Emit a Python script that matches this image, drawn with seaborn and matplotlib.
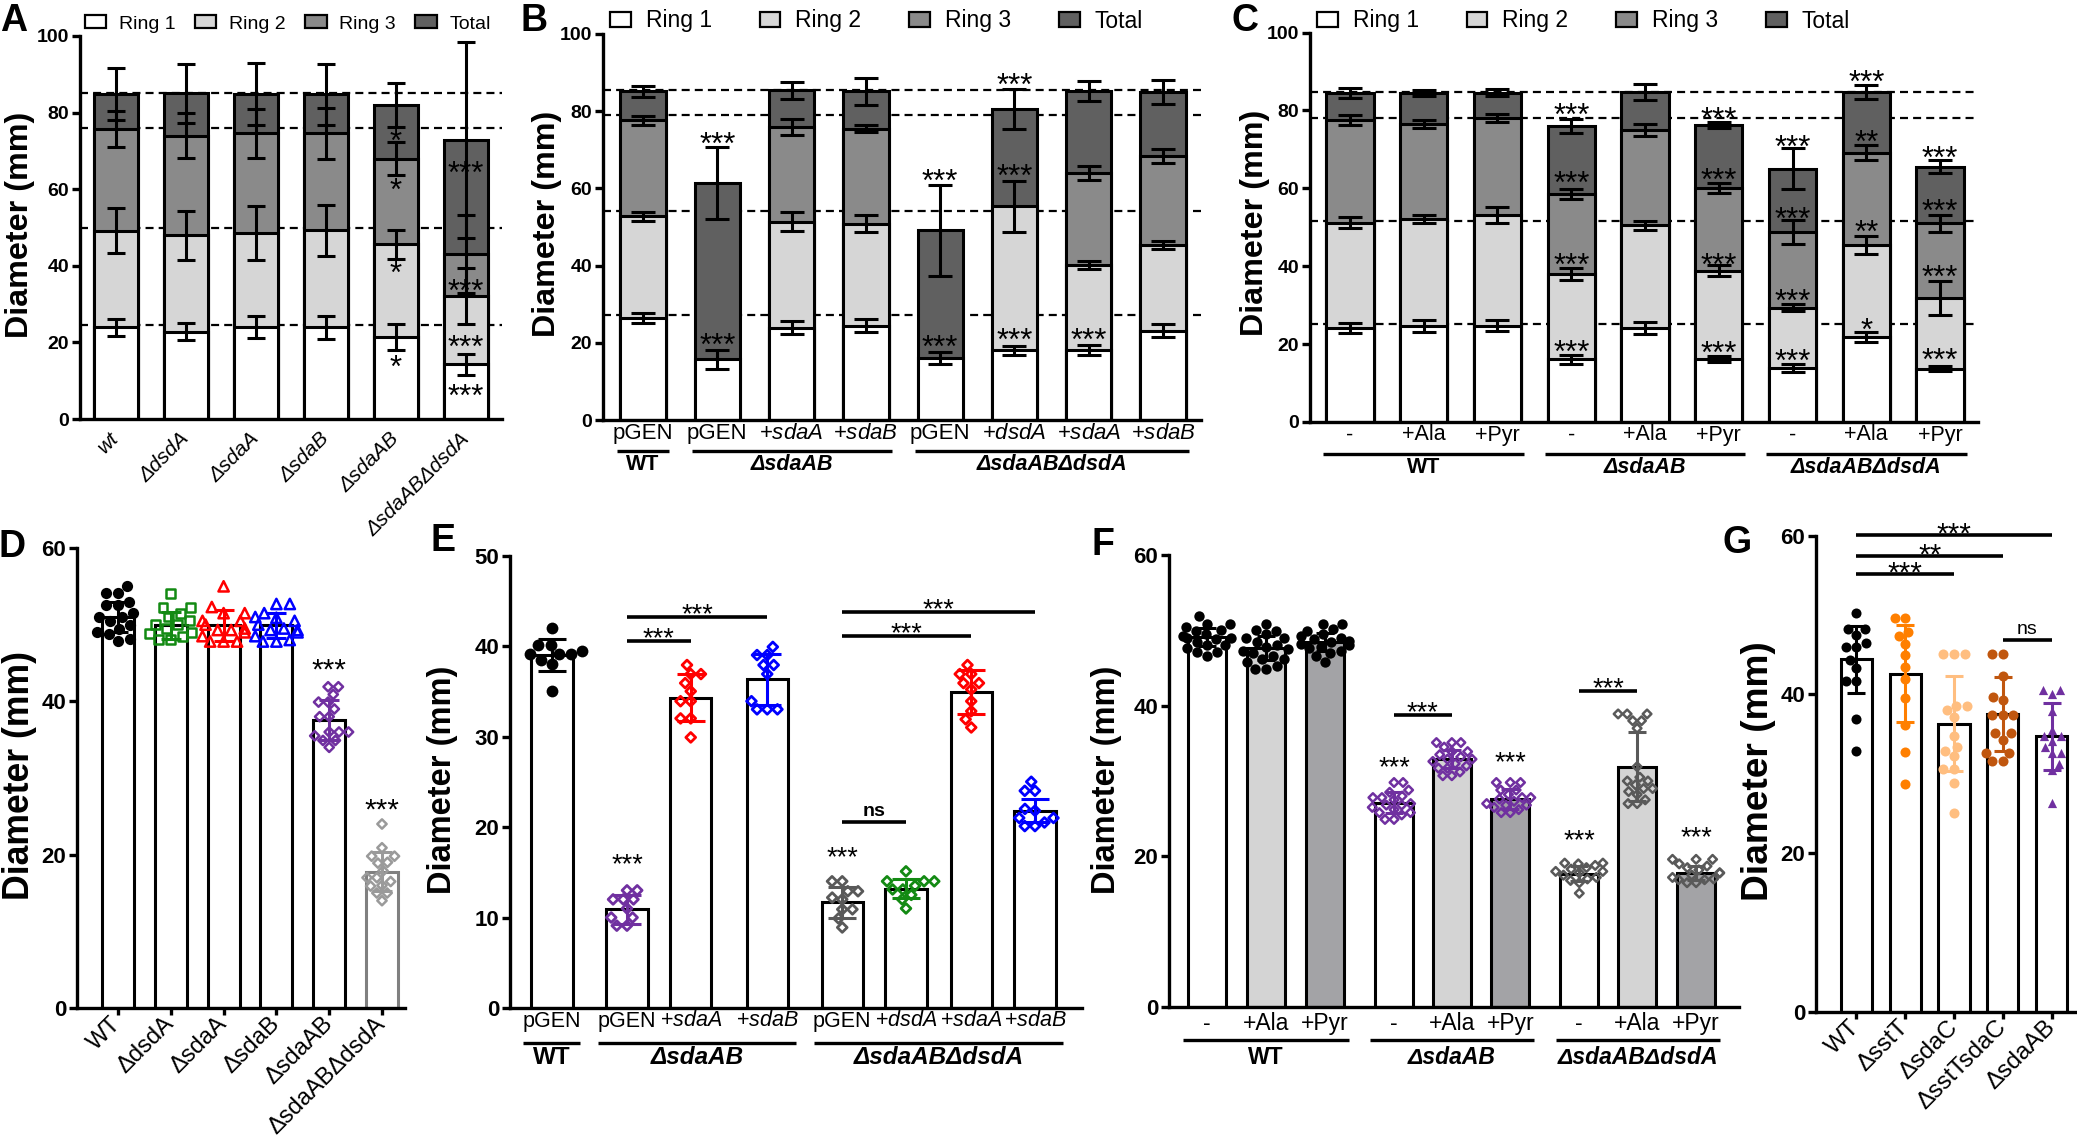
"""
Zone-of-growth diameters (panels A-G): stacked ring diameters and scatter-bar plots.
"""
import numpy as np
import pandas as pd
import matplotlib
matplotlib.use("Agg")
import matplotlib.pyplot as plt
import matplotlib.transforms as mtransforms
from matplotlib.patches import Patch
import seaborn as sns

W, H = 2077, 1146
NAN = np.nan

# ---------------- A: ring diameters, single mutants ----------------
A_LABELS = ["wt", "ΔdsdA", "ΔsdaA", "ΔsdaB", "ΔsdaAB", "ΔsdaABΔdsdA"]
A_RING1 = [23.9, 22.8, 24.1, 23.9, 21.5, 14.3]
A_RING1_SD = [2.1, 2.3, 2.9, 3.1, 3.4, 2.8]
A_RING2 = [49.2, 48.0, 48.5, 49.3, 45.6, 32.1]
A_RING2_SD = [5.8, 6.4, 7.1, 6.7, 3.7, 7.4]
A_RING3 = [75.6, 74.0, 74.6, 74.6, 68.0, 43.0]
A_RING3_SD = [4.7, 5.8, 6.4, 6.7, 4.2, 10.2]
A_TOTAL = [84.9, 85.0, 84.9, 84.8, 82.0, 72.8]
A_TOTAL_SD = [6.8, 7.7, 8.1, 8.0, 5.8, 25.6]
A_REF = [85.0, 76.0, 49.8, 24.5]
A_STARS = [(4, 74.6, "*"), (4, 62.0, "*"), (4, 40.2, "*"), (4, 15.8, "*"),
           (5, 66.3, "***"), (5, 35.6, "***"), (5, 20.8, "***"), (5, 8.0, "***")]

# ---------------- B: complementation ----------------
B_LABELS = ["pGEN", "pGEN", r"+$\mathit{sdaA}$", r"+$\mathit{sdaB}$",
            "pGEN", r"+$\mathit{dsdA}$", r"+$\mathit{sdaA}$", r"+$\mathit{sdaB}$"]
B_GROUPS = [("WT", 0, 0, False), ("ΔsdaAB", 1, 3, True), ("ΔsdaABΔdsdA", 4, 7, True)]
B_RING1 = [26.5, 15.7, 23.9, 24.4, 16.0, 18.1, 18.1, 23.1]
B_RING1_SD = [1.3, 2.5, 1.7, 1.7, 1.6, 1.2, 1.3, 1.7]
B_RING2 = [52.8, NAN, 51.4, 50.9, NAN, 55.4, 40.1, 45.4]
B_RING2_SD = [1.2, NAN, 2.4, 2.1, NAN, 6.6, 1.0, 1.0]
B_RING3 = [77.6, NAN, 75.9, 75.5, NAN, NAN, 64.0, 68.3]
B_RING3_SD = [1.2, NAN, 2.0, 1.0, NAN, NAN, 1.7, 1.8]
B_TOTAL = [85.2, 61.3, 85.4, 85.2, 49.2, 80.6, 85.2, 85.0]
B_TOTAL_SD = [1.4, 9.3, 2.2, 3.5, 11.8, 5.1, 2.5, 3.2]
B_REF = [85.4, 78.9, 54.1, 27.3]
B_STARS = [(1, 73.6, "***"), (1, 21.5, "***"), (4, 64.0, "***"), (4, 21.0, "***"),
           (5, 89.0, "***"), (5, 65.2, "***"), (5, 22.9, "***"), (6, 22.7, "***")]

# ---------------- C: alanine / pyruvate supplementation ----------------
C_LABELS = ["-", "+Ala", "+Pyr"] * 3
C_GROUPS = [("WT", 0, 2, False), ("ΔsdaAB", 3, 5, True), ("ΔsdaABΔdsdA", 6, 8, True)]
C_RING1 = [24.2, 24.7, 24.7, 16.1, 24.2, 16.1, 13.9, 21.8, 13.7]
C_RING1_SD = [1.3, 1.6, 1.4, 1.1, 1.5, 0.8, 1.0, 1.3, 0.7]
C_RING2 = [51.2, 52.1, 53.2, 38.0, 50.5, 38.9, 29.4, 45.4, 31.8]
C_RING2_SD = [1.5, 1.0, 2.0, 1.5, 1.1, 1.4, 1.0, 2.3, 4.3]
C_RING3 = [77.5, 76.5, 78.1, 58.6, 74.9, 60.1, 48.9, 69.2, 51.0]
C_RING3_SD = [1.3, 1.0, 1.0, 1.3, 1.5, 1.3, 3.1, 1.9, 2.1]
C_TOTAL = [84.4, 84.4, 84.6, 76.0, 84.7, 76.3, 65.1, 84.7, 65.6]
C_TOTAL_SD = [1.3, 0.8, 0.8, 1.7, 2.0, 0.8, 5.2, 1.8, 1.7]
C_REF = [84.8, 78.0, 51.7, 25.1]
C_STARS = [(3, 80.8, "***"), (3, 63.5, "***"), (3, 42.3, "***"), (3, 20.1, "***"),
           (5, 80.0, "***"), (5, 64.3, "***"), (5, 42.3, "***"), (5, 19.7, "***"),
           (6, 72.7, "***"), (6, 54.3, "***"), (6, 33.2, "***"), (6, 17.8, "***"),
           (7, 89.4, "***"), (7, 74.1, "**"), (7, 50.8, "**"), (7, 25.8, "*"),
           (8, 70.0, "***"), (8, 56.2, "***"), (8, 39.2, "***"), (8, 18.0, "***")]

# ---------------- D: single plates ----------------
D_LABELS = ["WT", "ΔdsdA", "ΔsdaA", "ΔsdaB", "ΔsdaAB", "ΔsdaABΔdsdA"]
D_MEAN = [51.0, 49.9, 49.9, 49.9, 37.6, 17.8]
D_SD = [2.0, 1.8, 2.0, 1.6, 2.6, 2.5]
D_POINTS = [
    [55.0, 54.1, 54.1, 53.0, 52.6, 52.6, 51.5, 51.0, 51.0, 50.5, 50.0, 49.5, 49.0, 48.8, 48.1, 47.9],
    [54.1, 52.3, 52.3, 51.5, 51.0, 50.5, 50.0, 50.0, 49.5, 49.0, 48.8, 48.5, 48.1, 48.1],
    [55.0, 52.3, 51.5, 51.5, 50.5, 50.5, 50.0, 49.5, 49.3, 49.3, 49.0, 48.5, 47.8, 47.8, 47.8],
    [52.7, 52.7, 51.5, 51.0, 50.9, 50.5, 50.0, 49.5, 49.3, 49.3, 49.0, 48.5, 48.0, 47.8, 47.8],
    [41.9, 41.9, 40.9, 39.9, 39.9, 39.0, 38.0, 38.0, 36.0, 36.0, 36.0, 35.5, 34.9, 34.9, 34.0],
    [24.0, 20.9, 19.8, 19.8, 19.0, 18.9, 17.9, 17.0, 17.0, 16.5, 16.0, 15.9, 15.0, 15.0, 14.0],
]
D_STARS = [(4, 45.3, "***"), (5, 27.0, "***")]

# ---------------- E: complementation, single plates ----------------
E_LABELS = ["pGEN", "pGEN", r"+$\mathit{sdaA}$", r"+$\mathit{sdaB}$",
            "pGEN", r"+$\mathit{dsdA}$", r"+$\mathit{sdaA}$", r"+$\mathit{sdaB}$"]
E_GROUPS = [("WT", 0, 0, False), ("ΔsdaAB", 1, 3, True), ("ΔsdaABΔdsdA", 4, 7, True)]
E_MEAN = [39.0, 10.9, 34.3, 36.3, 11.7, 13.2, 34.9, 21.8]
E_SD = [1.8, 1.6, 2.6, 2.8, 1.7, 1.0, 2.4, 1.3]
E_POINTS = [
    [42.0, 40.1, 40.1, 39.5, 39.1, 39.1, 39.1, 38.5, 38.0, 35.0],
    [13.0, 13.0, 12.0, 12.0, 12.0, 11.0, 10.0, 10.0, 9.1, 9.1],
    [37.9, 36.9, 36.9, 35.9, 35.0, 33.9, 33.9, 32.0, 32.0, 29.9],
    [39.9, 39.0, 39.0, 37.9, 37.9, 36.9, 33.9, 33.0, 33.0, 33.0],
    [14.0, 14.0, 12.9, 12.9, 12.2, 12.0, 10.9, 10.9, 9.9, 8.9],
    [15.1, 14.0, 14.0, 14.0, 13.5, 13.1, 13.1, 12.5, 12.0, 11.0],
    [37.9, 36.9, 36.9, 35.9, 35.9, 35.2, 33.9, 32.8, 31.9, 31.0],
    [25.0, 24.0, 24.0, 22.0, 21.8, 21.0, 21.0, 20.5, 20.1, 20.1],
]
E_BRACKETS = [(1, 2, 40.6, "***"), (1, 3, 43.2, "***"), (4, 6, 41.1, "***"),
              (4, 7, 43.8, "***"), (4, 5, 20.5, "ns")]
E_STARS = [(1, 16.7, "***"), (4, 17.5, "***")]

# ---------------- F: supplementation, single plates ----------------
F_LABELS = ["-", "+Ala", "+Pyr"] * 3
F_GROUPS = [("WT", 0, 2, False), ("ΔsdaAB", 3, 5, True), ("ΔsdaABΔdsdA", 6, 8, True)]
F_MEAN = [49.1, 47.6, 48.5, 27.1, 32.9, 27.6, 17.7, 31.9, 17.8]
F_SD = [1.2, 1.6, 1.2, 1.4, 1.2, 1.3, 1.0, 4.6, 0.9]
F_POINTS = [
    [51.9, 50.9, 50.9, 50.4, 50.0, 49.9, 49.5, 49.2, 49.0, 49.0, 48.8, 48.5, 48.0, 48.0, 47.6, 47.1, 47.1, 46.6],
    [50.9, 50.0, 49.9, 49.5, 49.0, 49.0, 48.5, 48.0, 47.8, 47.5, 47.2, 47.0, 46.6, 46.2, 46.2, 45.8, 45.2, 44.9, 44.9],
    [50.9, 50.9, 50.2, 49.9, 49.5, 49.2, 49.0, 48.8, 48.6, 48.5, 48.2, 48.0, 47.8, 47.6, 47.3, 47.0, 46.6, 45.8],
    [29.8, 29.8, 28.8, 28.5, 28.0, 27.8, 27.8, 27.5, 27.0, 26.8, 26.8, 26.5, 26.2, 25.8, 25.8, 25.5, 24.9, 24.9],
    [35.1, 35.1, 35.1, 34.5, 33.9, 33.9, 33.5, 33.2, 32.9, 32.9, 32.6, 32.3, 32.0, 31.7, 31.7, 31.2, 30.7, 30.7],
    [29.8, 29.8, 29.8, 28.8, 28.8, 28.2, 27.8, 27.8, 27.6, 27.3, 27.0, 26.8, 26.8, 26.5, 26.2, 25.8, 25.8],
    [19.1, 19.1, 19.0, 18.8, 18.5, 18.3, 18.0, 18.0, 17.8, 17.5, 17.2, 17.0, 16.8, 16.5, 15.1],
    [38.9, 38.9, 38.9, 38.0, 38.0, 37.0, 31.9, 30.5, 30.0, 30.0, 29.5, 29.0, 29.0, 28.6, 28.2, 27.5, 27.0, 27.0],
    [19.6, 19.6, 19.6, 19.0, 18.7, 18.5, 18.2, 17.8, 17.8, 17.5, 17.2, 17.0, 16.9, 16.9, 16.5, 16.5],
]
F_BRACKETS = [(3, 4, 38.8, "***"), (6, 7, 42.0, "***")]
F_STARS = [(3, 32.9, "***"), (5, 33.5, "***"), (6, 23.2, "***"), (8, 23.6, "***")]

# ---------------- G: transporter mutants ----------------
G_LABELS = ["WT", "ΔsstT", "ΔsdaC", "ΔsstTsdaC", "ΔsdaAB"]
G_MEAN = [44.4, 42.6, 36.3, 37.5, 34.7]
G_SD = [4.2, 6.1, 6.0, 4.7, 4.2]
G_POINTS = [
    [50.3, 48.2, 48.2, 47.5, 46.5, 45.9, 45.9, 44.3, 43.3, 41.7, 41.7, 36.9, 32.9],
    [49.6, 49.6, 47.9, 47.4, 46.4, 45.0, 43.5, 41.9, 39.5, 36.1, 32.7, 28.7],
    [45.1, 45.1, 45.1, 38.5, 38.5, 38.0, 37.1, 34.8, 33.4, 32.8, 32.2, 30.6, 30.6, 28.8, 25.1],
    [45.1, 45.1, 42.3, 39.7, 39.3, 37.4, 37.4, 37.4, 35.1, 35.1, 34.3, 32.6, 32.6, 31.6, 31.6],
    [40.6, 40.6, 40.0, 37.9, 35.5, 34.7, 34.7, 34.1, 33.4, 32.6, 32.6, 31.2, 30.5, 26.3],
]
G_BRACKETS = [(0, 4, 60.1, "***"), (0, 3, 57.4, "**"), (0, 2, 55.1, "***"), (3, 4, 46.8, "ns")]

# ---------------- styles ----------------
RING_NAMES = ["Ring 1", "Ring 2", "Ring 3", "Total"]
RING_COLORS = ["white", "#d6d6d6", "#8a8a8a", "#606060"]
PURPLE, DGRAY = "#7030a0", "#595959"
MSIZE = {"o": 8.5, "s": 6.8, "^": 7.8, "D": 5.0}

sns.set_style("ticks")
plt.rcParams["font.family"] = ["Liberation Sans", "DejaVu Sans"]
plt.rcParams.update({
    "mathtext.fontset": "custom",
    "mathtext.rm": "Liberation Sans",
    "mathtext.it": "Liberation Sans:italic",
    "mathtext.bf": "Liberation Sans:bold",
    "axes.linewidth": 2.4,
    "axes.edgecolor": "black",
    "xtick.color": "black",
    "ytick.color": "black",
    "text.color": "black",
    "xtick.major.width": 2.4,
    "ytick.major.width": 2.4,
})


def add_axes(fig, left, right, top, bottom):
    return fig.add_axes([left / W, 1 - bottom / H, (right - left) / W, (bottom - top) / H])


def star(ax, x, y, text, size):
    # asterisks sit high in the em box, pull them down so the glyphs centre on y
    ax.annotate(text, (x, y), xytext=(0, -0.32 * size), textcoords="offset points",
                ha="center", va="center", fontsize=size, annotation_clip=False, zorder=6)


def bracket(ax, x0, x1, y, text, size, ns_bold=False):
    ax.plot([x0, x1], [y, y], color="black", lw=2.6, clip_on=False, solid_capstyle="butt", zorder=5)
    if "*" in text:
        ax.annotate(text, ((x0 + x1) / 2, y), xytext=(0, 7.2 - 0.32 * size),
                    textcoords="offset points", ha="center", va="center", fontsize=size,
                    annotation_clip=False)
    else:
        ax.annotate(text, ((x0 + x1) / 2, y), xytext=(0, 7.6), textcoords="offset points",
                    ha="center", va="center", fontsize=14,
                    fontweight="bold" if ns_bold else "normal", annotation_clip=False)


def finish_axes(ax, xlim, ymax, ystep, tick_size):
    sns.despine(ax=ax)
    ax.set_xlim(*xlim)
    ax.set_ylim(0, ymax)
    ticks = list(range(0, ymax + 1, ystep))
    ax.set_yticks(ticks, [str(t) for t in ticks], fontsize=tick_size, fontweight="bold")
    ax.tick_params(axis="y", length=5.8, width=2.4, pad=2)
    ax.set_xlabel("")
    ax.set_ylabel("")


def below_labels(ax, pos, labels, groups, y_lab, y_line, y_grp, lab_size, grp_size, half):
    tr = mtransforms.blended_transform_factory(ax.transData, ax.figure.transFigure)
    for p, lab in zip(pos, labels):
        ax.text(p, 1 - y_lab / H, lab, transform=tr, ha="center", va="center", fontsize=lab_size)
    for name, i0, i1, italic in groups:
        ax.plot([pos[i0] - half, pos[i1] + half], [1 - y_line / H] * 2, transform=tr,
                color="black", lw=2.4, clip_on=False, solid_capstyle="butt")
        ax.text((pos[i0] + pos[i1]) / 2, 1 - y_grp / H, name, transform=tr, ha="center",
                va="center", fontsize=grp_size, fontweight="bold",
                fontstyle="italic" if italic else "normal")
    ax.set_xticks([])


def stacked_panel(ax, rings, sds, ref, stars, width, capsize, star_size):
    pos = np.arange(len(rings[-1]))
    for y in ref:
        ax.axhline(y, color="black", lw=1.6, ls=(0, (3.6, 2.3)), zorder=0.5)
    # Total first, Ring 1 last so the smaller diameters sit in front
    for vals, color in zip(rings[::-1], RING_COLORS[::-1]):
        df = pd.DataFrame({"pos": pos, "d": vals}).dropna()
        sns.barplot(data=df, x="pos", y="d", native_scale=True, orient="x", width=width,
                    color=color, saturation=1, edgecolor="black", linewidth=2.2,
                    errorbar=None, ax=ax, zorder=2)
    for vals, err in zip(rings, sds):
        v, e = np.asarray(vals, float), np.asarray(err, float)
        ok = ~np.isnan(v)
        ax.errorbar(pos[ok], v[ok], yerr=e[ok], fmt="none", ecolor="black", elinewidth=2.2,
                    capsize=capsize, capthick=2.2, zorder=4)
    for i, y, s in stars:
        star(ax, i, y, s, star_size)


def legend_rings(ax, fig, x_px, y_px, size, hlen, colsp):
    handles = [Patch(facecolor=c, edgecolor="black", linewidth=1.6) for c in RING_COLORS]
    ax.legend(handles, RING_NAMES, ncol=4, loc="center left",
              bbox_to_anchor=(x_px / W, 1 - y_px / H), bbox_transform=fig.transFigure,
              frameon=False, fontsize=size, handlelength=hlen, handleheight=0.65,
              handletextpad=0.65, columnspacing=colsp, borderpad=0, borderaxespad=0)


def dot_panel(ax, pos, means, sds, points, colors, markers, filled, faces, edges,
              width, msc, mlw, capsize):
    for i, p in enumerate(pos):
        sns.barplot(x=[p], y=[means[i]], native_scale=True, orient="x", width=width,
                    color=faces[i], saturation=1, edgecolor=edges[i], linewidth=2.2,
                    errorbar=None, ax=ax, zorder=1)
        pts = points[i]
        sns.swarmplot(x=[p] * len(pts), y=pts, native_scale=True, orient="x",
                      marker=markers[i], size=MSIZE[markers[i]] * msc, color=colors[i],
                      facecolor=colors[i] if filled[i] else "none", edgecolor=colors[i],
                      linewidth=0 if filled[i] else mlw, warn_thresh=1, ax=ax, zorder=3)
        ax.errorbar(p, means[i], yerr=sds[i], fmt="none", ecolor=colors[i], elinewidth=2.2,
                    capsize=capsize, capthick=2.2, zorder=4)


fig = plt.figure(figsize=(W / 100, H / 100), dpi=100)

# ---- A ----
axA = add_axes(fig, 80, 502, 36, 419)
stacked_panel(axA, [A_RING1, A_RING2, A_RING3, A_TOTAL],
              [A_RING1_SD, A_RING2_SD, A_RING3_SD, A_TOTAL_SD], A_REF, A_STARS, 0.63, 6.5, 22.5)
finish_axes(axA, (-0.514, 5.514), 100, 20, 14)
axA.set_xticks(range(6), A_LABELS, rotation=45, ha="right", va="center",
               rotation_mode="anchor", fontsize=15, fontstyle="italic")
axA.tick_params(axis="x", length=0, pad=12)
legend_rings(axA, fig, 85, 24, 14, 1.1, 1.0)

# ---- B ----
axB = add_axes(fig, 603, 1201, 34, 420)
stacked_panel(axB, [B_RING1, B_RING2, B_RING3, B_TOTAL],
              [B_RING1_SD, B_RING2_SD, B_RING3_SD, B_TOTAL_SD], B_REF, B_STARS, 0.61, 8.5, 22.5)
finish_axes(axB, (-0.538, 7.51), 100, 20, 14)
below_labels(axB, np.arange(8), B_LABELS, B_GROUPS, 433, 451, 465, 16, 15.5, 0.345)
legend_rings(axB, fig, 610, 21, 16.5, 0.9, 2.1)

# ---- C ----
axC = add_axes(fig, 1310, 1978, 32.6, 422)
stacked_panel(axC, [C_RING1, C_RING2, C_RING3, C_TOTAL],
              [C_RING1_SD, C_RING2_SD, C_RING3_SD, C_TOTAL_SD], C_REF, C_STARS, 0.64, 8.5, 22.5)
finish_axes(axC, (-0.542, 8.515), 100, 20, 14)
below_labels(axC, np.arange(9), C_LABELS, C_GROUPS, 435, 453.7, 467.4, 15.5, 15.5, 0.36)
legend_rings(axC, fig, 1317, 21, 16.5, 0.9, 2.1)

# ---- D ----
axD = add_axes(fig, 77, 405, 548, 1008)
dot_panel(axD, list(range(6)), D_MEAN, D_SD, D_POINTS,
          ["black", "#138a13", "#ff0000", "#0000ff", PURPLE, "#9a9a9a"],
          ["o", "s", "^", "^", "D", "D"], [True, False, False, False, False, False],
          ["white"] * 6, ["black"] * 5 + ["#808080"], 0.61, 0.95, 1.8, 7.5)
for i, y, s in D_STARS:
    star(axD, i, y, s, 21.5)
finish_axes(axD, (-0.777, 5.436), 60, 20, 16)
axD.set_xticks(range(6), D_LABELS, rotation=45, ha="right", va="center",
               rotation_mode="anchor", fontsize=17)
axD.tick_params(axis="x", length=5, width=2.4, pad=4)

# ---- E ----
E_POS = [0, 1, 1.85, 2.87, 3.87, 4.72, 5.59, 6.44]
axE = add_axes(fig, 510, 1082, 555.5, 1008)
dot_panel(axE, E_POS, E_MEAN, E_SD, E_POINTS,
          ["black", PURPLE, "#ff0000", "#0000ff", DGRAY, "#138a13", "#ff0000", "#0000ff"],
          ["o"] + ["D"] * 7, [True] + [False] * 7, ["white"] * 8, ["black"] * 8,
          0.55, 1.0, 2.0, 10)
for a, b, y, t in E_BRACKETS:
    bracket(axE, E_POS[a], E_POS[b], y, t, 19.5, ns_bold=True)
for i, y, s in E_STARS:
    star(axE, E_POS[i], y, s, 19.5)
finish_axes(axE, (-0.56, 7.067), 50, 10, 16)
below_labels(axE, E_POS, E_LABELS, E_GROUPS, 1021, 1042.7, 1058, 15.5, 17.5, 0.38)

# ---- F ----
F_POS = [0, 1, 2, 3.17, 4.15, 5.14, 6.31, 7.29, 8.29]
axF = add_axes(fig, 1169, 1739, 555, 1007)
dot_panel(axF, F_POS, F_MEAN, F_SD, F_POINTS,
          ["black"] * 3 + [PURPLE] * 3 + [DGRAY] * 3,
          ["o"] * 3 + ["D"] * 6, [True] * 3 + [False] * 6,
          ["white", "#d4d4d4", "#a3a3a6"] * 3, ["black"] * 9, 0.64, 0.88, 1.8, 6.8)
for a, b, y, t in F_BRACKETS:
    bracket(axF, F_POS[a], F_POS[b], y, t, 19.5)
for i, y, s in F_STARS:
    star(axF, F_POS[i], y, s, 19.5)
finish_axes(axF, (-0.644, 9.017), 60, 20, 16)
below_labels(axF, F_POS, F_LABELS, F_GROUPS, 1023.7, 1040, 1057, 16.5, 16.5, 0.4)

# ---- G ----
axG = add_axes(fig, 1816, 2075, 535.6, 1011.7)
dot_panel(axG, list(range(5)), G_MEAN, G_SD, G_POINTS,
          ["black", "#ff7f00", "#ffbe80", "#c0560e", PURPLE],
          ["o", "o", "o", "o", "^"], [True] * 5, ["white"] * 5, ["black"] * 5,
          0.64, 0.85, 0, 6.5)
for a, b, y, t in G_BRACKETS:
    bracket(axG, a, b, y, t, 21.5)
finish_axes(axG, (-0.83, 4.48), 60, 20, 16)
axG.set_xticks(range(5), G_LABELS, rotation=45, ha="right", va="center",
               rotation_mode="anchor", fontsize=17.5)
axG.tick_params(axis="x", length=5, width=2.4, pad=4)

# ---- y labels and panel letters ----
for x, y, size in [(20, 225, 23.2), (547, 224, 23.2), (1255, 223, 23.2),
                   (20, 776, 25.7), (443, 780, 23.5), (1106, 780, 23.5), (1758, 771, 26.7)]:
    fig.text(x / W, 1 - y / H, "Diameter (mm)", rotation=90, ha="center", va="center",
             fontsize=size, fontweight="bold")
for x, y, letter in [(14, 21, "A"), (534, 21, "B"), (1245, 21, "C"), (12, 547, "D"),
                     (443, 541, "E"), (1103, 545, "F"), (1737, 543, "G")]:
    fig.text(x / W, 1 - y / H, letter, ha="center", va="center", fontsize=27, fontweight="bold")

fig.savefig("out.png", dpi=100)
